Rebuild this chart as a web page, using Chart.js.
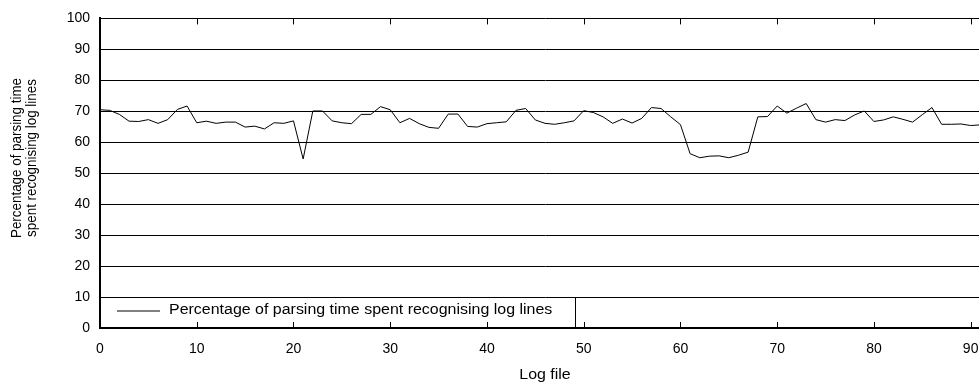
<!DOCTYPE html>
<html>
<head>
<meta charset="utf-8">
<script src="https://cdn.jsdelivr.net/npm/chart.js@4/dist/chart.umd.min.js"></script>
<style>
  html, body { margin: 0; padding: 0; overflow: hidden; background: #fff; }
  #wrap { width: 1000px; height: 383px; }
</style>
</head>
<body>
<div id="wrap"><canvas id="chart"></canvas></div>
<script>
// log file index (x axis)
const logFiles = [
   0,  1,  2,  3,  4,  5,  6,  7,  8,  9, 10, 11, 12, 13, 14, 15, 16, 17, 18, 19,
  20, 21, 22, 23, 24, 25, 26, 27, 28, 29, 30, 31, 32, 33, 34, 35, 36, 37, 38, 39,
  40, 41, 42, 43, 44, 45, 46, 47, 48, 49, 50, 51, 52, 53, 54, 55, 56, 57, 58, 59,
  60, 61, 62, 63, 64, 65, 66, 67, 68, 69, 70, 71, 72, 73, 74, 75, 76, 77, 78, 79,
  80, 81, 82, 83, 84, 85, 86, 87, 88, 89, 90, 91
];

// percentage of parsing time spent recognising log lines
const recognisePct = [
  70.5, 70.3, 69.0, 66.8, 66.7, 67.3, 66.1, 67.3, 70.6, 71.7,
  66.3, 66.8, 66.1, 66.5, 66.5, 64.9, 65.2, 64.3, 66.3, 66.1,
  66.9, 54.6, 70.1, 70.1, 66.9, 66.3, 66.0, 69.0, 69.0, 71.5,
  70.5, 66.3, 67.7, 66.0, 64.8, 64.5, 69.1, 69.1, 65.1, 64.9,
  66.0, 66.3, 66.6, 70.3, 70.9, 67.2, 66.1, 65.8, 66.3, 66.9,
  70.2, 69.6, 68.2, 66.1, 67.5, 66.2, 67.7, 71.2, 70.9, 68.2,
  65.7, 56.3, 55.0, 55.5, 55.6, 55.0, 55.8, 56.8, 68.2, 68.3,
  71.7, 69.4, 71.0, 72.5, 67.3, 66.5, 67.3, 67.0, 68.8, 70.1,
  66.7, 67.2, 68.2, 67.4, 66.5, 68.9, 71.2, 65.8, 65.8, 65.9,
  65.4, 65.6
];

const xTickValues = [0, 10, 20, 30, 40, 50, 60, 70, 80, 90];

const seriesLabel = 'Percentage of parsing time spent recognising log lines';
const yTitleLines = ['Percentage of parsing time', 'spent recognising log lines'];
const xTitle = 'Log file';

const FONT = '"Liberation Sans", Arial, sans-serif';
const STRETCH = 1.14;

// stretched text like the reference (wider than tall)
function wideText(ctx, text, x, y, align) {
  ctx.save();
  ctx.font = '14px ' + FONT;
  ctx.textBaseline = 'middle';
  ctx.textAlign = align;
  ctx.translate(x, y);
  ctx.scale(STRETCH, 1);
  ctx.fillText(text, 0, 0);
  ctx.restore();
}

// legend box, inner tick marks and axis titles
const extrasPlugin = {
  id: 'extras',
  afterDatasetsDraw(chart) {
    const ctx = chart.ctx;
    const area = chart.chartArea;
    const x = chart.scales.x;
    const y = chart.scales.y;
    ctx.save();
    ctx.strokeStyle = '#000';
    ctx.fillStyle = '#000';
    ctx.lineWidth = 1;

    // inner tick marks top and bottom
    ctx.beginPath();
    x.ticks.forEach(t => {
      const px = Math.round(x.getPixelForValue(t.value)) + 0.5;
      ctx.moveTo(px, area.bottom);
      ctx.lineTo(px, area.bottom - 6);
      ctx.moveTo(px, area.top);
      ctx.lineTo(px, area.top + 6);
    });
    ctx.stroke();

    // legend
    const top = Math.round(y.getPixelForValue(10)) + 0.5;
    const right = area.left + 475.5;
    ctx.beginPath();
    ctx.moveTo(right, top);
    ctx.lineTo(right, area.bottom);
    const midY = top + 13;
    ctx.moveTo(area.left + 17, midY + 0.5);
    ctx.lineTo(area.left + 60, midY + 0.5);
    ctx.stroke();
    wideText(ctx, seriesLabel, area.left + 69, midY, 'left');

    // x axis title
    wideText(ctx, xTitle, (area.left + area.right) / 2, 375, 'center');

    // y axis title (rotated, glyph height stretched like the rest)
    ctx.font = '13.4px ' + FONT;
    ctx.textBaseline = 'middle';
    ctx.textAlign = 'center';
    ctx.translate(17, 158);
    ctx.rotate(-Math.PI / 2);
    ctx.scale(1, STRETCH);
    ctx.fillText(yTitleLines[0], 0, 0);
    ctx.fillText(yTitleLines[1], 0, 15 / STRETCH);
    ctx.restore();
  }
};

new Chart(document.getElementById('chart'), {
  type: 'line',
  data: {
    datasets: [{
      label: seriesLabel,
      data: logFiles.map((f, i) => ({ x: f, y: recognisePct[i] })),
      borderColor: '#000',
      borderWidth: 1,
      pointRadius: 0,
      tension: 0,
      fill: false
    }]
  },
  options: {
    responsive: true,
    maintainAspectRatio: false,
    animation: false,
    layout: { padding: { top: 18, right: 10, left: 0, bottom: 0 } },
    plugins: {
      legend: { display: false },
      tooltip: { enabled: false }
    },
    scales: {
      x: {
        type: 'linear',
        position: 'bottom',
        min: 0,
        max: 92,
        afterBuildTicks: s => { s.ticks = xTickValues.map(v => ({ value: v })); },
        afterFit: s => { s.height = 55; },
        ticks: {
          maxRotation: 0,
          autoSkip: false,
          padding: 13,
          color: '#000',
          font: { family: FONT, size: 14 }
        },
        grid: { drawOnChartArea: false, drawTicks: false },
        border: { color: '#000', width: 2 }
      },
      y: {
        min: 0,
        max: 100,
        afterFit: s => { s.width = 100; },
        ticks: {
          stepSize: 10,
          padding: 10,
          color: '#000',
          font: { family: FONT, size: 14 }
        },
        grid: { color: '#000', lineWidth: 1, drawTicks: false },
        border: { color: '#000', width: 2 }
      }
    }
  },
  plugins: [extrasPlugin]
});
</script>
</body>
</html>
